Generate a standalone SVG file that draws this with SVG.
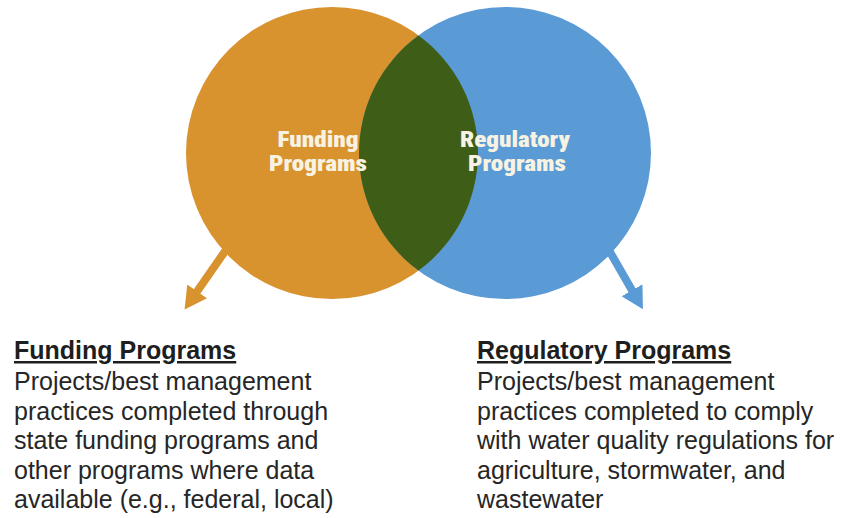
<svg xmlns="http://www.w3.org/2000/svg" width="842" height="518" viewBox="0 0 842 518">
<style>
.lbl{font-family:"Roboto Condensed","DejaVu Sans Condensed",Roboto,"Liberation Sans",sans-serif;font-weight:900;font-size:22px;fill:#F7F2E2;text-anchor:middle}
.hd{font-family:"Liberation Sans",Arial,sans-serif;font-weight:bold;font-size:25px;fill:#1E1E1E;text-decoration:underline}
.bd{font-family:"Liberation Sans",Arial,sans-serif;font-size:25px;fill:#262626}
</style>
<defs>
<marker id="hO" markerUnits="userSpaceOnUse" markerWidth="26" markerHeight="26" refX="2" refY="13" orient="auto" viewBox="0 0 26 26"><path d="M0,1 L22,13 L0,25 Z" fill="#D8922E"/></marker>
<marker id="hB" markerUnits="userSpaceOnUse" markerWidth="26" markerHeight="26" refX="2" refY="13" orient="auto" viewBox="0 0 26 26"><path d="M0,1 L22,13 L0,25 Z" fill="#5B9BD5"/></marker>
</defs>
<g id="connectors">
<line x1="228" y1="247" x2="196" y2="293" stroke="#D8922E" stroke-width="8" marker-end="url(#hO)"/>
<line x1="606" y1="245" x2="633" y2="292" stroke="#5B9BD5" stroke-width="8" marker-end="url(#hB)"/>
</g>
<g id="funding-circle">
<circle cx="332" cy="153" r="146" fill="#D8922E"/>
</g>
<g id="regulatory-circle">
<circle cx="505" cy="153" r="146" fill="#5B9BD5"/>
</g>
<g id="overlap">
<path d="M418.5,35.4 A146,146 0 0 1 418.5,270.6 A146,146 0 0 1 418.5,35.4 Z" fill="#3E5D17"/>
</g>
<g id="funding-label">
<text class="lbl" x="318" y="147" textLength="81" lengthAdjust="spacingAndGlyphs">Funding</text>
<text class="lbl" x="318" y="171" textLength="98" lengthAdjust="spacingAndGlyphs">Programs</text>
</g>
<g id="regulatory-label">
<text class="lbl" x="515" y="147" textLength="110" lengthAdjust="spacingAndGlyphs">Regulatory</text>
<text class="lbl" x="517" y="171" textLength="98" lengthAdjust="spacingAndGlyphs">Programs</text>
</g>
<g id="funding-text">
<text class="hd" x="14" y="359">Funding Programs</text>
<text class="bd" x="14" y="390">Projects/best management</text>
<text class="bd" x="14" y="420">practices completed through</text>
<text class="bd" x="14" y="449">state funding programs and</text>
<text class="bd" x="14" y="479">other programs where data</text>
<text class="bd" x="14" y="508">available (e.g., federal, local)</text>
</g>
<g id="regulatory-text">
<text class="hd" x="477" y="359">Regulatory Programs</text>
<text class="bd" x="477" y="390">Projects/best management</text>
<text class="bd" x="477" y="420">practices completed to comply</text>
<text class="bd" x="477" y="449">with water quality regulations for</text>
<text class="bd" x="477" y="479">agriculture, stormwater, and</text>
<text class="bd" x="477" y="508">wastewater</text>
</g>
</svg>
